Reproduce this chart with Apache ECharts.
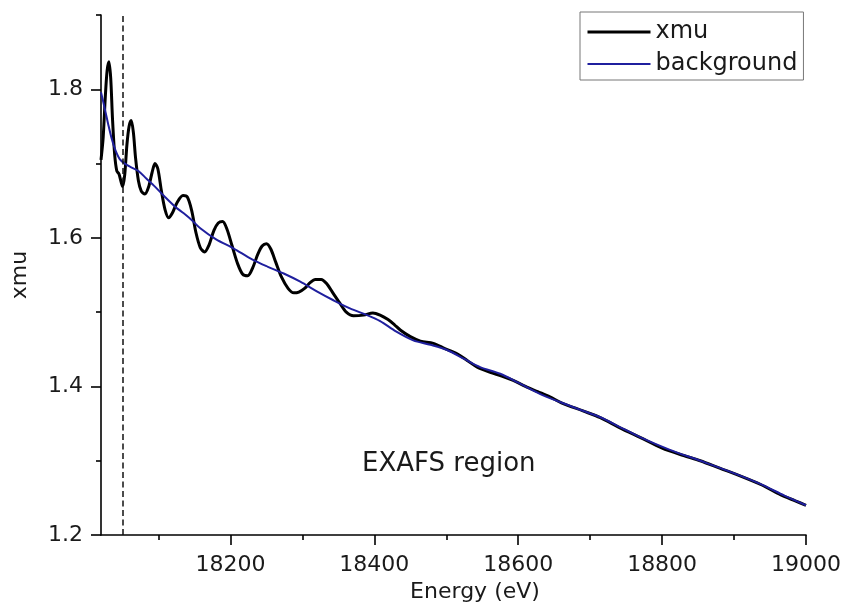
<!DOCTYPE html>
<html>
<head>
<meta charset="utf-8">
<title>xmu and background</title>
<script src="https://cdn.jsdelivr.net/npm/echarts@6/dist/echarts.min.js"></script>
<style>
  html, body { margin: 0; padding: 0; background: #fff; }
  #chart { width: 846px; height: 612px; }
</style>
</head>
<body>
<div id="chart"></div>
<script>
// Measured absorption (xmu) against photon energy
const xmuEnergy = [
  18020, 18023, 18026, 18028.5, 18031, 18033.5, 18036, 18039, 18042, 18045,
  18048, 18050, 18053, 18056, 18059, 18062, 18065, 18068, 18072, 18076,
  18081, 18086, 18091, 18095, 18099, 18104, 18109, 18114, 18119, 18126,
  18134, 18140, 18146, 18152, 18158, 18164, 18170, 18177, 18183, 18189,
  18195, 18202, 18210, 18217, 18224, 18231, 18238, 18244, 18250, 18256,
  18263, 18271, 18280, 18288, 18295, 18303, 18311, 18318, 18326, 18334,
  18343, 18352, 18361, 18371, 18385, 18398, 18408, 18419, 18428, 18436,
  18450, 18464, 18482, 18498, 18515, 18529, 18543, 18561, 18577, 18593,
  18610, 18627, 18644, 18660, 18690, 18714, 18740, 18770, 18800, 18830,
  18853, 18880, 18910, 18937, 18965, 18985, 19000
];
const xmuValues = [
  1.705, 1.735, 1.790, 1.825, 1.837, 1.815, 1.760, 1.712, 1.690, 1.686,
  1.675, 1.669, 1.685, 1.725, 1.750, 1.758, 1.742, 1.708, 1.677, 1.663,
  1.659, 1.668, 1.688, 1.700, 1.693, 1.663, 1.638, 1.627, 1.633, 1.648,
  1.657, 1.655, 1.637, 1.607, 1.587, 1.581, 1.590, 1.610, 1.620, 1.622,
  1.612, 1.590, 1.565, 1.551, 1.549, 1.560, 1.578, 1.589, 1.592, 1.585,
  1.567, 1.547, 1.532, 1.526, 1.527, 1.532, 1.540, 1.544, 1.544, 1.538,
  1.525, 1.512, 1.500, 1.495, 1.496, 1.499, 1.496, 1.490, 1.483, 1.476,
  1.467, 1.461, 1.458, 1.451, 1.444, 1.435, 1.426, 1.419, 1.414, 1.408,
  1.400, 1.393, 1.386, 1.378, 1.367, 1.358, 1.345, 1.331, 1.317, 1.307,
  1.300, 1.290, 1.279, 1.268, 1.254, 1.246, 1.240
];

// Fitted smooth background
const bgEnergy = [
  18020, 18025, 18030, 18035, 18040, 18046, 18053, 18062, 18072, 18083,
  18095, 18109, 18123, 18135, 18146, 18158, 18180, 18204, 18230, 18252,
  18274, 18297, 18320, 18343, 18366, 18390, 18408, 18430, 18454, 18478,
  18501, 18525, 18547, 18575, 18600, 18630, 18658, 18685, 18714, 18742,
  18770, 18810, 18853, 18895, 18937, 18970, 19000
];
const bgValues = [
  1.796, 1.775, 1.753, 1.733, 1.718, 1.706, 1.700, 1.695, 1.690, 1.680,
  1.669, 1.655, 1.642, 1.633, 1.624, 1.613, 1.598, 1.586, 1.571, 1.561,
  1.552, 1.541, 1.528, 1.516, 1.505, 1.496, 1.488, 1.474, 1.462, 1.456,
  1.449, 1.437, 1.426, 1.417, 1.405, 1.390, 1.379, 1.369, 1.3585, 1.345,
  1.3315, 1.315, 1.300, 1.285, 1.2685, 1.253, 1.240
];

// Edge marker separating the near-edge part from the EXAFS region
const edgeEnergy = 18050;

// Axis ticks
const xMajorTicks = [18200, 18400, 18600, 18800, 19000];
const xMinorTicks = [18100, 18300, 18500, 18700, 18900];
const yMajorTicks = [1.2, 1.4, 1.6, 1.8];
const yMinorTicks = [1.3, 1.5, 1.7, 1.9];

const seriesNames = ['xmu', 'background'];

const FONT = 'DejaVu Sans';
const TEXT = '#1a1a1a';
const BLUE = '#1f1f9e';
const X_MIN = 18020, X_MAX = 19000, Y_MIN = 1.2, Y_MAX = 1.9;

const zip = (xs, ys) => xs.map((x, i) => [x, ys[i]]);

const chart = echarts.init(document.getElementById('chart'), null, { renderer: 'canvas' });

const axisLineStyle = { color: '#000', width: 1.6 };

chart.setOption({
  animation: false,
  backgroundColor: '#fff',
  grid: { left: 101, right: 40, top: 15, bottom: 77, containLabel: false },
  legend: {
    data: [
      { name: seriesNames[0], lineStyle: { width: 3, color: '#000' } },
      { name: seriesNames[1], lineStyle: { width: 2, color: BLUE } }
    ],
    orient: 'vertical',
    left: 580,
    top: 12,
    padding: [8, 6, 4, 6],
    itemGap: 8,
    itemWidth: 63,
    itemHeight: 24,
    borderColor: '#777',
    borderWidth: 1,
    itemStyle: { opacity: 0 },
    textStyle: { fontFamily: FONT, fontSize: 24, color: TEXT }
  },
  xAxis: [
    {
      type: 'value', min: X_MIN, max: X_MAX, position: 'bottom',
      name: 'Energy (eV)', nameLocation: 'middle', nameGap: 45,
      nameTextStyle: { fontFamily: FONT, fontSize: 22, color: TEXT, padding: [0, 0, 0, 43] },
      axisLine: { lineStyle: axisLineStyle },
      axisTick: { customValues: xMajorTicks, length: 10, inside: false, lineStyle: axisLineStyle },
      axisLabel: { customValues: xMajorTicks, margin: 19, fontFamily: FONT, fontSize: 22, color: TEXT,
                   formatter: v => String(v) },
      splitLine: { show: false }
    },
    {
      type: 'value', min: X_MIN, max: X_MAX, position: 'bottom', offset: 0,
      axisLine: { show: false },
      axisTick: { customValues: xMinorTicks, length: 5, lineStyle: axisLineStyle },
      axisLabel: { show: false },
      splitLine: { show: false }
    }
  ],
  yAxis: [
    {
      type: 'value', min: Y_MIN, max: Y_MAX, position: 'left',
      name: 'xmu', nameLocation: 'middle', nameGap: 70,
      nameTextStyle: { fontFamily: FONT, fontSize: 22, color: TEXT },
      axisLine: { show: true, lineStyle: axisLineStyle },
      axisTick: { show: true, customValues: yMajorTicks, length: 10, lineStyle: axisLineStyle },
      axisLabel: { customValues: yMajorTicks, margin: 18, fontFamily: FONT, fontSize: 22, color: TEXT,
                   formatter: v => v.toFixed(1) },
      splitLine: { show: false }
    },
    {
      type: 'value', min: Y_MIN, max: Y_MAX, position: 'left', offset: 0,
      axisLine: { show: false },
      axisTick: { show: true, customValues: yMinorTicks, length: 5, lineStyle: axisLineStyle },
      axisLabel: { show: false },
      splitLine: { show: false }
    }
  ],
  graphic: [
    {
      type: 'text', left: 362, top: 451, silent: true,
      style: { text: 'EXAFS region', fontFamily: FONT, fontSize: 26, fill: TEXT }
    }
  ],
  series: [
    {
      name: seriesNames[0], type: 'line', xAxisIndex: 0, yAxisIndex: 0,
      data: zip(xmuEnergy, xmuValues),
      showSymbol: false, symbol: 'none', smooth: 0.3,
      lineStyle: { color: '#000', width: 3 },
      itemStyle: { color: '#000' },
      z: 2,
      markLine: {
        silent: true, symbol: ['none', 'none'], label: { show: false },
        lineStyle: { color: '#111', width: 1.5, type: [6, 3.5] },
        data: [{ xAxis: edgeEnergy }]
      }
    },
    {
      name: seriesNames[1], type: 'line', xAxisIndex: 0, yAxisIndex: 0,
      data: zip(bgEnergy, bgValues),
      showSymbol: false, symbol: 'none', smooth: 0.3,
      lineStyle: { color: BLUE, width: 2 },
      itemStyle: { color: BLUE },
      z: 3
    }
  ]
});
</script>
</body>
</html>
